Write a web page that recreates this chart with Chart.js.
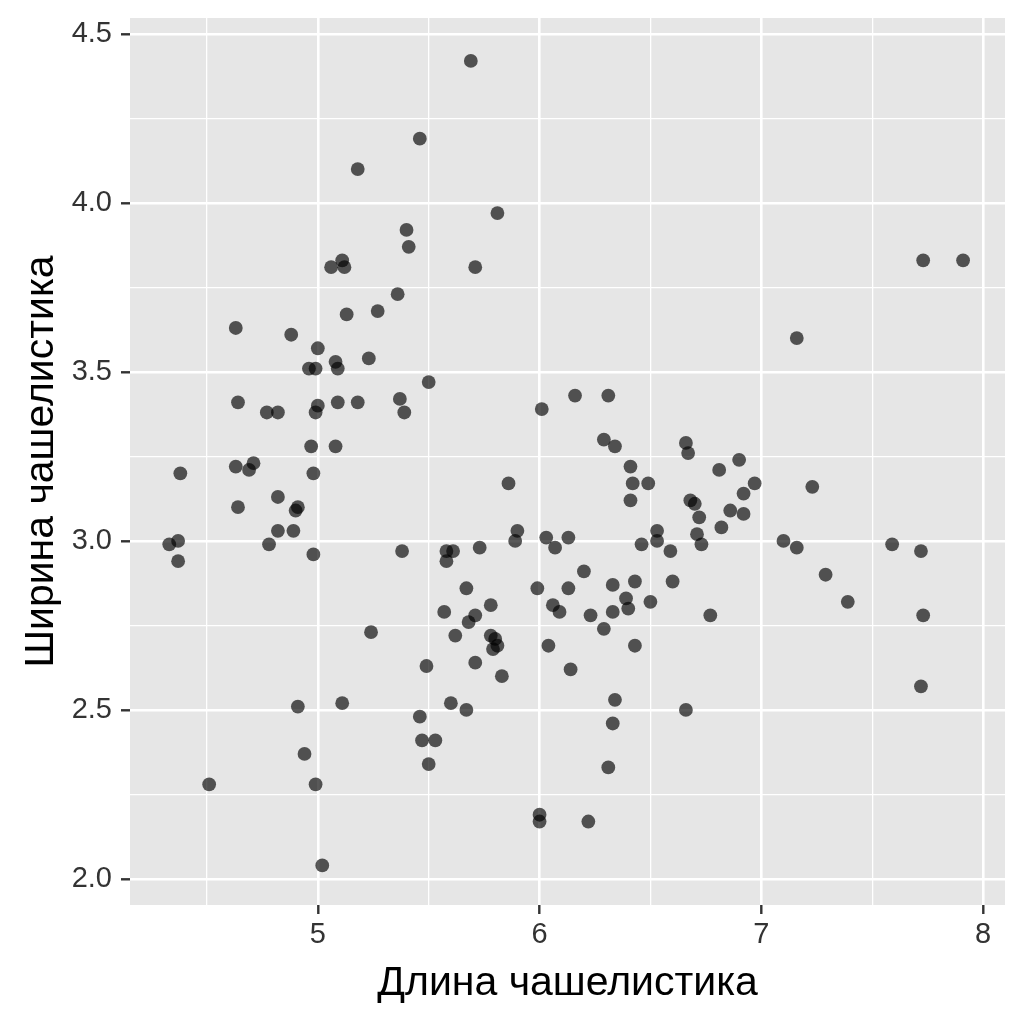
<!DOCTYPE html>
<html>
<head>
<meta charset="utf-8">
<script src="https://cdn.jsdelivr.net/npm/chart.js@4.4.1/dist/chart.umd.min.js"></script>
<style>
  html, body { margin: 0; padding: 0; background: #fff; }
  #wrap { width: 1024px; height: 1024px; }
</style>
</head>
<body>
<div id="wrap"><canvas id="chart" width="1024" height="1024"></canvas></div>
<script>
// sepal length / width (jittered iris)
const sepalLength = [
  4.33, 4.37, 4.37, 4.38, 4.51, 4.63, 4.64, 4.63, 4.64, 4.69,
  4.71, 4.77, 4.82, 4.78, 4.82, 4.82, 4.89, 4.90, 4.91, 4.88,
  4.91, 4.94, 4.98, 4.98, 4.97, 5.00, 4.96, 4.99, 5.00, 4.99,
  4.99, 5.02, 5.08, 5.08, 5.09, 5.09, 5.11, 5.13, 5.27, 5.06,
  5.11, 5.12, 5.18, 5.18, 5.23, 5.24, 5.36, 5.37, 5.39, 5.38,
  5.40, 5.41, 5.46, 5.50, 5.46, 5.47, 5.53, 5.50, 5.49, 5.57,
  5.58, 5.61, 5.58, 5.60, 5.62, 5.67, 5.67, 5.68, 5.71, 5.71,
  5.69, 5.71, 5.73, 5.78, 5.78, 5.80, 5.81, 5.79, 5.81, 5.83,
  5.86, 5.90, 5.89, 5.99, 6.00, 6.00, 6.01, 6.03, 6.04, 6.07,
  6.06, 6.09, 6.13, 6.13, 6.14, 6.16, 6.20, 6.22, 6.23, 6.29,
  6.29, 6.31, 6.31, 6.33, 6.33, 6.33, 6.34, 6.34, 6.39, 6.40,
  6.41, 6.42, 6.41, 6.43, 6.43, 6.46, 6.49, 6.50, 6.53, 6.53,
  6.59, 6.60, 6.66, 6.67, 6.66, 6.68, 6.70, 6.72, 6.71, 6.73,
  6.77, 6.81, 6.82, 6.86, 6.90, 6.92, 6.92, 6.97, 7.10, 7.16,
  7.16, 7.23, 7.29, 7.39, 7.59, 7.72, 7.73, 7.72, 7.73, 7.91
];
const sepalWidth = [
  2.99, 3.00, 2.94, 3.20, 2.28, 3.63, 3.41, 3.22, 3.10, 3.21,
  3.23, 3.38, 3.38, 2.99, 3.13, 3.03, 3.03, 3.09, 3.10, 3.61,
  2.51, 2.37, 2.96, 3.20, 3.28, 3.57, 3.51, 3.51, 3.40, 3.38,
  2.28, 2.04, 3.28, 3.53, 3.51, 3.41, 2.52, 3.67, 3.68, 3.81,
  3.83, 3.81, 4.10, 3.41, 3.54, 2.73, 3.73, 3.42, 3.38, 2.97,
  3.92, 3.87, 4.19, 3.47, 2.48, 2.41, 2.41, 2.34, 2.63, 2.79,
  2.97, 2.97, 2.94, 2.52, 2.72, 2.50, 2.86, 2.76, 2.78, 2.64,
  4.42, 3.81, 2.98, 2.81, 2.72, 2.71, 2.69, 2.68, 3.97, 2.60,
  3.17, 3.03, 3.00, 2.86, 2.19, 2.17, 3.39, 3.01, 2.69, 2.98,
  2.81, 2.79, 3.01, 2.86, 2.62, 3.43, 2.91, 2.17, 2.78, 3.30,
  2.74, 2.33, 3.43, 2.79, 2.87, 2.46, 2.53, 3.28, 2.83, 2.80,
  3.22, 3.17, 3.12, 2.88, 2.69, 2.99, 3.17, 2.82, 3.03, 3.00,
  2.97, 2.88, 3.29, 3.26, 2.50, 3.12, 3.11, 3.07, 3.02, 2.99,
  2.78, 3.21, 3.04, 3.09, 3.24, 3.14, 3.08, 3.17, 3.00, 3.60,
  2.98, 3.16, 2.90, 2.82, 2.99, 2.97, 2.78, 2.57, 3.83, 3.83
];

const xTicks = [4.5, 5, 5.5, 6, 6.5, 7, 7.5, 8];
const yTicks = [2.0, 2.25, 2.5, 2.75, 3.0, 3.25, 3.5, 3.75, 4.0, 4.25, 4.5];
const xMajor = [5, 6, 7, 8];
const yMajor = [2.0, 2.5, 3.0, 3.5, 4.0, 4.5];

const isMajor = (list, v) => list.some(m => Math.abs(m - v) < 1e-6);

const panelBg = {
  id: 'panelBg',
  beforeDraw(chart) {
    const { ctx, chartArea: a } = chart;
    ctx.save();
    ctx.fillStyle = '#E6E6E6';
    ctx.fillRect(a.left, a.top, a.right - a.left, a.bottom - a.top);
    ctx.restore();
  }
};

const font = 'Liberation Sans, Arial, sans-serif';

new Chart(document.getElementById('chart'), {
  type: 'scatter',
  data: {
    datasets: [{
      data: sepalLength.map((x, i) => ({ x: x, y: sepalWidth[i] })),
      backgroundColor: 'rgba(0, 0, 0, 0.65)',
      borderWidth: 0,
      pointRadius: 6.9,
      pointHoverRadius: 6.9
    }]
  },
  options: {
    responsive: false,
    animation: false,
    layout: { padding: { top: 18, right: 19, left: 0, bottom: 0 } },
    plugins: {
      legend: { display: false },
      tooltip: { enabled: false }
    },
    scales: {
      x: {
        type: 'linear',
        min: 4.153,
        max: 8.099,
        afterBuildTicks: s => { s.ticks = xTicks.map(v => ({ value: v })) },
        afterFit: s => { s.height = 119; s.paddingLeft = 0; s.paddingRight = 0 },
        border: { display: false },
        grid: {
          color: '#FFFFFF',
          lineWidth: c => isMajor(xMajor, c.tick.value) ? 2.6 : 1.3,
          tickColor: c => isMajor(xMajor, c.tick.value) ? '#333333' : 'rgba(0,0,0,0)',
          tickWidth: 2.4,
          tickLength: 9
        },
        ticks: {
          color: '#333333',
          font: { family: font, size: 29 },
          padding: 4,
          maxRotation: 0,
          autoSkip: false,
          callback: v => isMajor(xMajor, v) ? String(v) : ''
        },
        title: {
          display: true,
          text: 'Длина чашелистика',
          color: '#000000',
          font: { family: font, size: 41 },
          padding: { top: 0, bottom: 16 }
        }
      },
      y: {
        type: 'linear',
        min: 1.923,
        max: 4.547,
        afterBuildTicks: s => { s.ticks = yTicks.map(v => ({ value: v })) },
        afterFit: s => { s.width = 130; s.paddingTop = 0; s.paddingBottom = 0 },
        border: { display: false },
        grid: {
          color: '#FFFFFF',
          lineWidth: c => isMajor(yMajor, c.tick.value) ? 2.6 : 1.3,
          tickColor: c => isMajor(yMajor, c.tick.value) ? '#333333' : 'rgba(0,0,0,0)',
          tickWidth: 2.4,
          tickLength: 9
        },
        ticks: {
          color: '#333333',
          font: { family: font, size: 29 },
          padding: 9,
          autoSkip: false,
          callback: v => isMajor(yMajor, v) ? v.toFixed(1) : ''
        },
        title: {
          display: true,
          text: 'Ширина чашелистика',
          color: '#000000',
          font: { family: font, size: 41 },
          padding: { top: 17, bottom: 0 }
        }
      }
    }
  },
  plugins: [panelBg]
});
</script>
</body>
</html>
